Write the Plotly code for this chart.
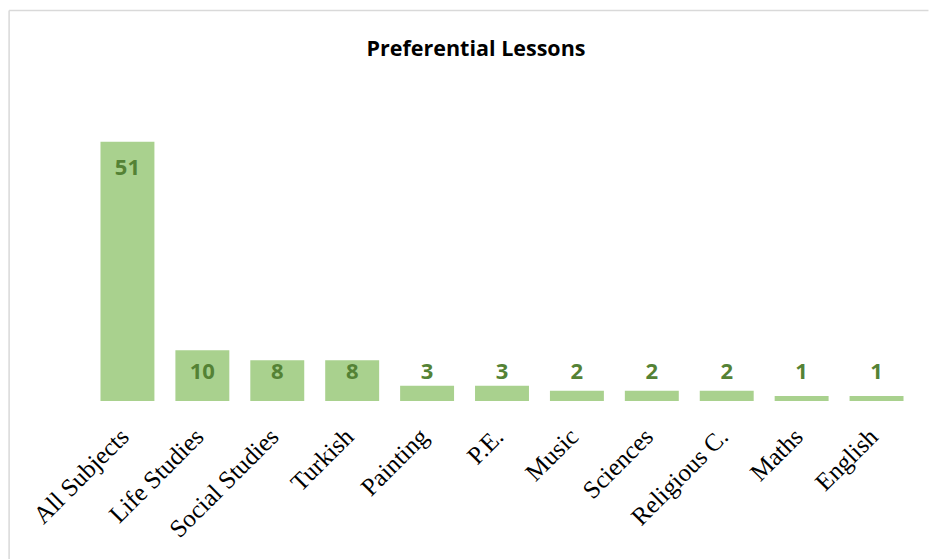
import plotly.graph_objects as go

categories = ["All Subjects", "Life Studies", "Social Studies", "Turkish", "Painting",
              "P.E.", "Music", "Sciences", "Religious C.", "Maths", "English"]
values = [51, 10, 8, 8, 3, 3, 2, 2, 2, 1, 1]

# label placement (data units): inside near the top for tall bars, common row otherwise
label_y = [max(v - 5.4, 5.5) for v in values]

W, H = 929, 559
L, R, T, B = 89.5, 14.5, 96, 158
PW, PH = W - L - R, H - T - B
n = len(categories)
shift = 6 / (PW / n)   # nudge rotated tick labels slightly left

fig = go.Figure()
fig.add_trace(go.Bar(
    x=categories, y=values,
    marker=dict(color="#a9d18e", line=dict(width=0)),
    width=0.72,
    hoverinfo="x+y",
))
fig.add_trace(go.Scatter(
    x=categories, y=label_y,
    mode="text",
    text=[str(v) for v in values],
    textposition="middle center",
    textfont=dict(family="Open Sans", size=22, color="#548235", weight="bold"),
    hoverinfo="skip",
    cliponaxis=False,
))
# carrier for the tick-label axis
fig.add_trace(go.Scatter(
    x=categories, y=values, xaxis="x2",
    mode="markers", marker=dict(opacity=0, size=1),
    hoverinfo="skip",
))

fig.update_layout(
    width=W, height=H,
    margin=dict(l=L, r=R, t=T, b=B),
    paper_bgcolor="white", plot_bgcolor="white",
    showlegend=False,
    title=dict(text="<b>Preferential Lessons</b>", x=476 / W, xanchor="center",
               y=1 - 48 / H, yanchor="middle",
               font=dict(family="Open Sans", size=21.5, color="black")),
    xaxis=dict(type="category", range=[-0.5, n - 0.5], showticklabels=False,
               showline=False, showgrid=False, ticks=""),
    xaxis2=dict(type="category", overlaying="x", side="bottom",
                range=[-0.5 + shift, n - 0.5 + shift],
                tickangle=-45, showline=False, showgrid=False, ticks="",
                ticklabelstandoff=15,
                tickfont=dict(family="Liberation Serif", size=25, color="black")),
    yaxis=dict(range=[0, 60], visible=False),
    shapes=[
        dict(type="line", xref="paper", yref="paper", x0=(8.5 - L) / PW, x1=1 + R / PW,
             y0=1 + (T - 10.5) / PH, y1=1 + (T - 10.5) / PH,
             line=dict(color="#d9d9d9", width=1.5)),
        dict(type="line", xref="paper", yref="paper", x0=(8.5 - L) / PW, x1=(8.5 - L) / PW,
             y0=1 + (T - 10.5) / PH, y1=-B / PH,
             line=dict(color="#d9d9d9", width=1.5)),
    ],
)

fig.write_html(
    "out.html",
    config={"displayModeBar": False},
    post_script="document.body.style.margin='0';document.body.style.overflow='hidden';",
)
